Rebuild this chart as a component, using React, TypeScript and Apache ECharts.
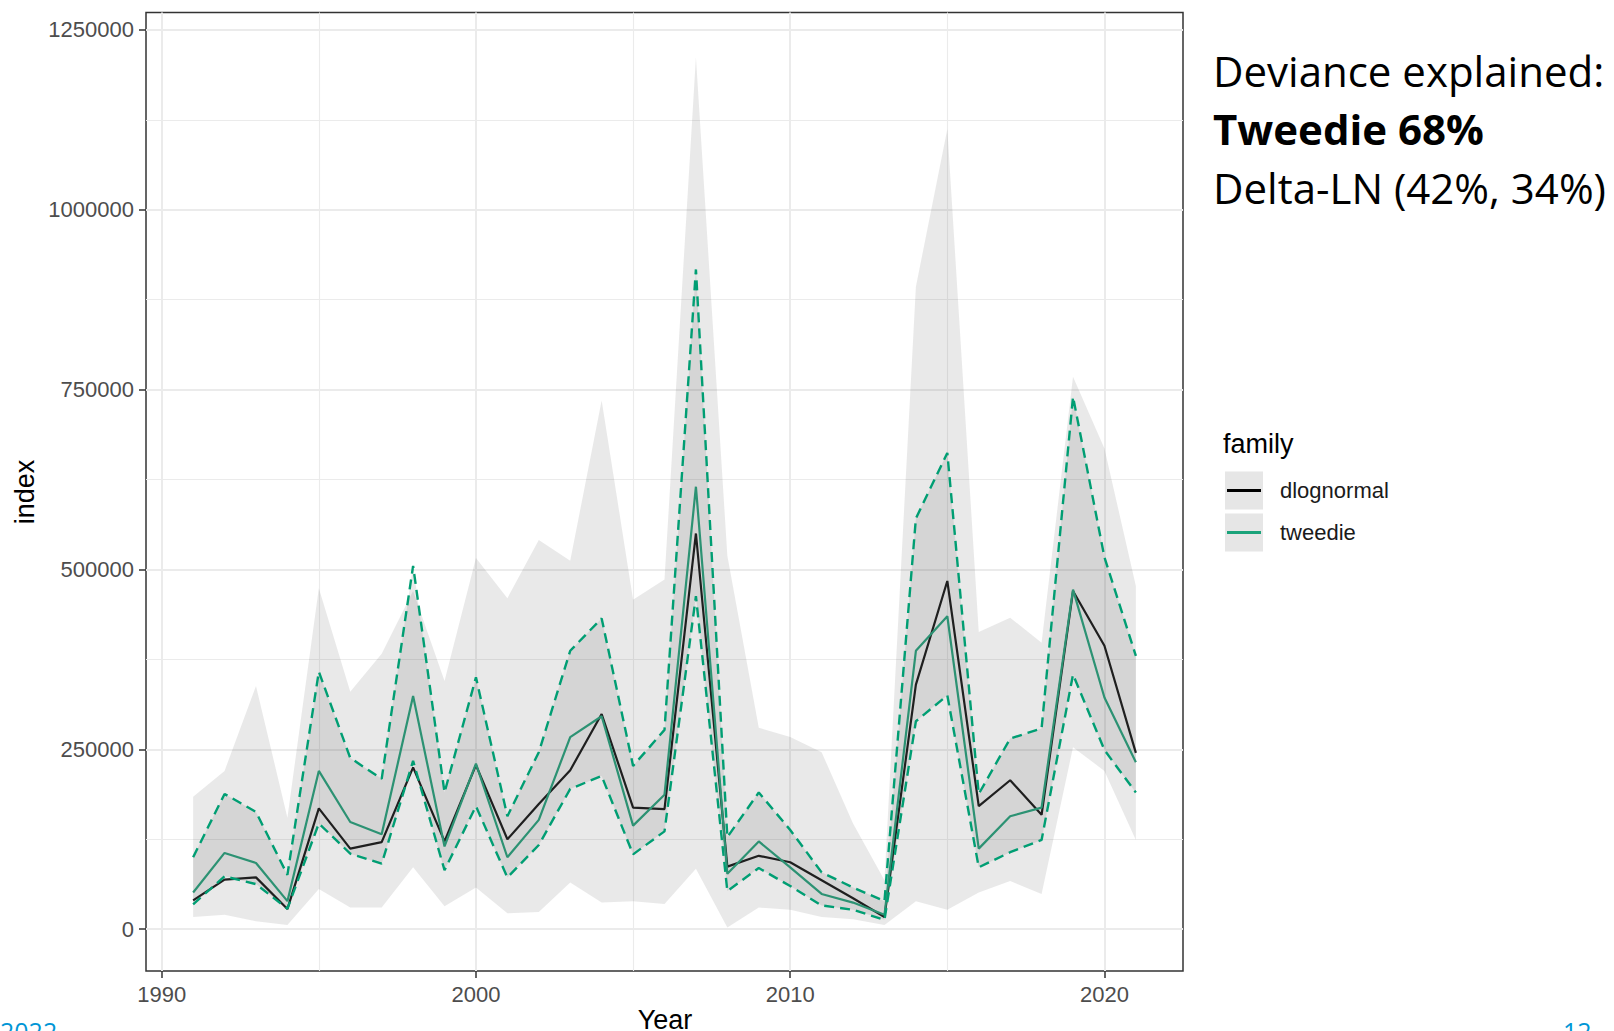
import React, { useEffect, useRef } from "react";
import * as echarts from "echarts";

// ---- data ----
const years = [
  1991, 1992, 1993, 1994, 1995, 1996, 1997, 1998, 1999, 2000, 2001, 2002, 2003, 2004, 2005, 2006,
  2007, 2008, 2009, 2010, 2011, 2012, 2013, 2014, 2015, 2016, 2017, 2018, 2019, 2020, 2021,
];
const dlognormalEst = [
  40000, 69000, 72000, 28000, 168000, 112000, 121000, 225000, 122000, 228000, 125000, 174000, 221000,
  299000, 169000, 167000, 550000, 87000, 102000, 93000, 68000, 43000, 17000, 340000, 484000, 171000,
  207000, 159000, 470000, 394000, 245000,
];
const dlognormalLower = [
  17000, 20000, 11000, 6000, 56000, 30000, 30000, 86000, 32000, 58000, 22000, 24000, 65000, 37000,
  39000, 35000, 84000, 2500, 30000, 27000, 17000, 14000, 6000, 39000, 27000, 51000, 67000, 49000,
  253000, 220000, 124000,
];
const dlognormalUpper = [
  184000, 220000, 338000, 155000, 474000, 330000, 383000, 470000, 345000, 516000, 460000, 541000,
  512000, 735000, 458000, 486000, 1212000, 519000, 280000, 267000, 246000, 147000, 68000, 893000,
  1112000, 413000, 433000, 398000, 768000, 668000, 477000,
];
const tweedieEst = [
  51000, 106000, 92000, 39000, 220000, 149000, 132000, 324000, 115000, 230000, 100000, 152000, 267000,
  296000, 144000, 187000, 615000, 77000, 122000, 86000, 49000, 37000, 20000, 387000, 435000, 112000,
  157000, 169000, 472000, 322000, 232000,
];
const tweedieLower = [
  34500, 73500, 62700, 28500, 147000, 105000, 91000, 234000, 82000, 171000, 72000, 117000, 195000,
  213000, 104000, 136000, 463000, 53000, 85000, 60000, 33000, 27000, 13000, 289000, 325000, 86000,
  107000, 124000, 354000, 249000, 190000,
];
const tweedieUpper = [
  100000, 188000, 163000, 75500, 358000, 238000, 209000, 505000, 190000, 350000, 157000, 246000,
  387000, 432000, 227000, 277000, 917000, 128000, 190000, 138000, 79000, 58000, 39000, 571000, 662000,
  188000, 265000, 279000, 740000, 517000, 380000,
];
const xTicks = [1990, 2000, 2010, 2020];
const xMinorTicks = [1995, 2005, 2015];
const yTicks = [0, 250000, 500000, 750000, 1000000, 1250000];
const yMinorTicks = [125000, 375000, 625000, 875000, 1125000];
const legendLabels = ["dlognormal", "tweedie"];
const annotationLines = ["Deviance explained:", "Tweedie 68%", "Delta-LN (42%, 34%)"];
const footerLeft = "2022";
const footerRight = "12";

const BLACK = "#1f1f1f";
const GREEN_SOLID = "#2c9273";
const GREEN = "#009E73";
const RIBBON = "rgba(51,51,51,0.11)";
const SANS = "Liberation Sans, Arial, sans-serif";
const SLIDE = "Open Sans, sans-serif";

const pairs = (vals: number[]) => years.map((y, i) => [y, vals[i]]);
const band = (lo: number[], hi: number[]) => years.map((y, i) => [y, lo[i], hi[i]]);

// Ribbon drawn as one polygon through the axis scales (api.coord)
const ribbonRenderer = (params: any, api: any) => {
  if (params.dataIndex !== 0) return null;
  const n = years.length;
  const top: number[][] = [];
  const bot: number[][] = [];
  for (let j = 0; j < n; j++) {
    top.push(api.coord([api.value(0, j), api.value(2, j)]));
    bot.push(api.coord([api.value(0, j), api.value(1, j)]));
  }
  return {
    type: "polygon",
    shape: { points: top.concat(bot.reverse()) },
    style: { fill: RIBBON, stroke: null },
    silent: true,
  };
};

export default function App() {
  const ref = useRef<HTMLDivElement>(null);
  useEffect(() => {
    if (!ref.current) return;
    const chart = echarts.init(ref.current, undefined, { renderer: "svg" });

    const gridLines = [
      ...xTicks.map((v) => ({ xAxis: v, lineStyle: { width: 2 } })),
      ...xMinorTicks.map((v) => ({ xAxis: v, lineStyle: { width: 1.1 } })),
      ...yTicks.map((v) => ({ yAxis: v, lineStyle: { width: 2 } })),
      ...yMinorTicks.map((v) => ({ yAxis: v, lineStyle: { width: 1.1 } })),
    ];

    const axisCommon = (ticks: number[]) => ({
      axisLine: { show: false, onZero: false },
      splitLine: { show: false },
      axisTick: {
        show: true,
        length: 7,
        customValues: ticks,
        lineStyle: { color: "#333333", width: 1.5 },
      },
      axisLabel: {
        customValues: ticks,
        color: "#4d4d4d",
        fontSize: 22,
        fontFamily: SANS,
        margin: 12,
        formatter: (v: number) => String(v),
      },
    });

    const option: any = {
      animation: false,
      backgroundColor: "#ffffff",
      grid: {
        left: 146,
        right: 431,
        top: 12.6,
        bottom: 60,
        show: true,
        backgroundColor: "#ffffff",
        borderColor: "#333333",
        borderWidth: 1.5,
        containLabel: false,
        outerBoundsMode: "none",
      },
      xAxis: { type: "value", min: 1989.5, max: 2022.5, ...axisCommon(xTicks) },
      yAxis: { type: "value", min: -58100, max: 1274000, ...axisCommon(yTicks) },
      series: [
        {
          type: "line",
          name: "grid",
          data: pairs(dlognormalEst),
          symbol: "none",
          showSymbol: false,
          lineStyle: { opacity: 0, width: 0 },
          silent: true,
          z: 1,
          markLine: {
            silent: true,
            z: 1,
            animation: false,
            symbol: ["none", "none"],
            label: { show: false },
            lineStyle: { color: "#ebebeb", type: "solid" },
            emphasis: { disabled: true },
            data: gridLines,
          },
        },
        {
          type: "custom",
          name: "dlognormalBand",
          data: band(dlognormalLower, dlognormalUpper),
          encode: { x: 0, y: [1, 2] },
          renderItem: ribbonRenderer,
          silent: true,
          z: 2,
        },
        {
          type: "custom",
          name: "tweedieBand",
          data: band(tweedieLower, tweedieUpper),
          encode: { x: 0, y: [1, 2] },
          renderItem: ribbonRenderer,
          silent: true,
          z: 2,
        },
        {
          type: "line",
          name: "dlognormal",
          data: pairs(dlognormalEst),
          symbol: "none",
          showSymbol: false,
          lineStyle: { color: BLACK, width: 2.2 },
          z: 3,
        },
        {
          type: "line",
          name: "tweedie",
          data: pairs(tweedieEst),
          symbol: "none",
          showSymbol: false,
          lineStyle: { color: GREEN_SOLID, width: 2.2 },
          z: 3,
        },
        {
          type: "line",
          name: "tweedieLower",
          data: pairs(tweedieLower),
          symbol: "none",
          showSymbol: false,
          lineStyle: { color: GREEN, width: 2.4, type: [10, 6] },
          z: 4,
        },
        {
          type: "line",
          name: "tweedieUpper",
          data: pairs(tweedieUpper),
          symbol: "none",
          showSymbol: false,
          lineStyle: { color: GREEN, width: 2.4, type: [10, 6] },
          z: 4,
        },
      ],
      graphic: [
        {
          type: "text",
          x: 25,
          y: 492,
          rotation: Math.PI / 2,
          style: {
            text: "index",
            fontSize: 27,
            fontFamily: SANS,
            fill: "#000000",
            align: "center",
            verticalAlign: "middle",
          },
        },
        {
          type: "text",
          x: 665,
          y: 1020,
          style: {
            text: "Year",
            fontSize: 27,
            fontFamily: SANS,
            fill: "#000000",
            align: "center",
            verticalAlign: "middle",
          },
        },
        {
          type: "text",
          x: 1223,
          y: 444,
          style: {
            text: "family",
            fontSize: 27,
            fontFamily: SANS,
            fill: "#000000",
            align: "left",
            verticalAlign: "middle",
          },
        },
        ...legendLabels.flatMap((lab, i) => {
          const top = 471.5 + i * 42;
          return [
            {
              type: "rect",
              shape: { x: 1225, y: top, width: 38, height: 38 },
              style: { fill: "#e6e6e6" },
            },
            {
              type: "line",
              shape: { x1: 1227, y1: top + 19, x2: 1261, y2: top + 19 },
              style: { stroke: i === 0 ? "#000000" : "#1aa37a", lineWidth: 3 },
            },
            {
              type: "text",
              x: 1280,
              y: top + 19,
              style: {
                text: lab,
                fontSize: 22,
                fontFamily: SANS,
                fill: "#1a1a1a",
                align: "left",
                verticalAlign: "middle",
              },
            },
          ];
        }),
        ...annotationLines.map((t, i) => ({
          type: "text",
          x: 1213,
          y: [70, 128, 187][i],
          style: {
            text: t,
            fontSize: 42,
            fontWeight: i === 1 ? "bold" : "normal",
            fontFamily: SLIDE,
            fill: "#000000",
            align: "left",
            verticalAlign: "middle",
          },
        })),
        {
          type: "text",
          x: 0,
          y: 1031,
          style: {
            text: footerLeft,
            fontSize: 25,
            fontFamily: SLIDE,
            fill: "#0096d6",
            align: "left",
            verticalAlign: "middle",
          },
        },
        {
          type: "text",
          x: 1563,
          y: 1031,
          style: {
            text: footerRight,
            fontSize: 25,
            fontFamily: SLIDE,
            fill: "#0096d6",
            align: "left",
            verticalAlign: "middle",
          },
        },
      ],
    };

    chart.setOption(option);
    return () => chart.dispose();
  }, []);

  return (
    <div
      ref={ref}
      style={{ position: "fixed", left: 0, top: 0, width: 1614, height: 1031, background: "#fff" }}
    />
  );
}
